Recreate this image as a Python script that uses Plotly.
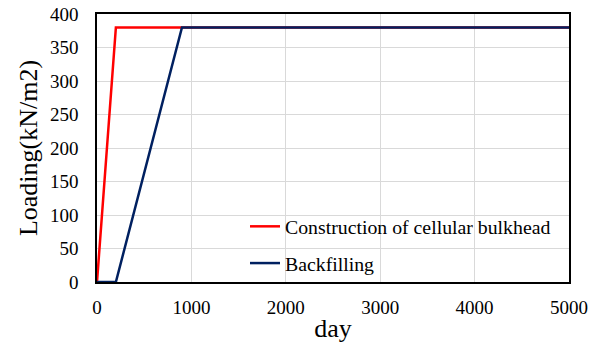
import plotly.graph_objects as go

red_x = [0, 200, 5000]
red_y = [0, 380, 380]
blue_x = [0, 200, 900, 5000]
blue_y = [0, 0, 380, 380]
names = ["Construction of cellular bulkhead", "Backfilling"]

fig = go.Figure()
fig.add_trace(go.Scatter(x=red_x, y=red_y, mode="lines", name=names[0],
                         line=dict(color="#ff0000", width=2.5), legendgroup="a"))
fig.add_trace(go.Scatter(x=blue_x, y=blue_y, mode="lines", name=names[1],
                         line=dict(color="#002060", width=2.5), legendgroup="b"))

font = "Liberation Serif"
fig.update_layout(
    width=608, height=349,
    margin=dict(l=97, r=39, t=14, b=67, autoexpand=False),
    paper_bgcolor="white", plot_bgcolor="white",
    font=dict(family=font, color="black", size=19),
    legend=dict(x=0.3136, y=0.28, xanchor="left", yanchor="top",
                bgcolor="rgba(255,255,255,0)", font=dict(family=font, size=19.8),
                tracegroupgap=8, traceorder="grouped"),
    xaxis=dict(range=[0, 5000], dtick=1000, showgrid=True, gridcolor="#d9d9d9",
               gridwidth=1, zeroline=False, showline=True, linecolor="black",
               linewidth=1.5, mirror=True, ticks="outside", ticklen=7,
               tickcolor="rgba(0,0,0,0)", automargin=False,
               title=dict(text="day", font=dict(family=font, size=26), standoff=2),
               tickfont=dict(family=font, size=19)),
    yaxis=dict(range=[0, 400], dtick=50, showgrid=True, gridcolor="#d9d9d9",
               gridwidth=1, zeroline=False, showline=True, linecolor="black",
               linewidth=1.5, mirror=True, ticks="outside", ticklen=13,
               tickcolor="rgba(0,0,0,0)", automargin=False,
               title=dict(text="Loading(kN/m2)", font=dict(family=font, size=26), standoff=5),
               tickfont=dict(family=font, size=19)),
)
fig.write_html("out.html")
